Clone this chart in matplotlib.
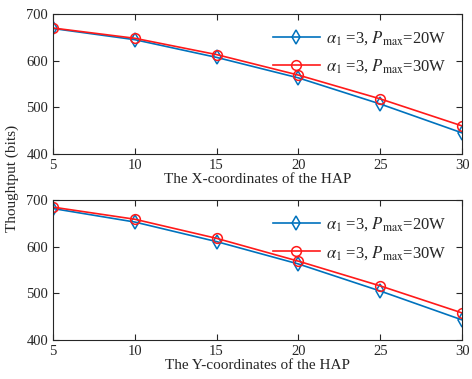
import numpy as np
import matplotlib.pyplot as plt

plt.rcParams["font.family"] = "Liberation Serif"
plt.rcParams["mathtext.fontset"] = "stix"

x = [5, 10, 15, 20, 25, 30]
# throughput vs X-coordinate of the HAP
x_p20 = [669, 645, 607, 563, 507, 445]
x_p30 = [670, 648, 613, 569, 518, 460]
# throughput vs Y-coordinate of the HAP
y_p20 = [682, 653, 611, 563, 505, 443]
y_p30 = [685, 659, 618, 569, 516, 458]

blue = (0, 0.447, 0.741)
red = (1.0, 0.1, 0.1)
grey = "#262626"

lab20 = r"$\alpha_1$ =3, $P_{\rm max}$=20W"
lab30 = r"$\alpha_1$ =3, $P_{\rm max}$=30W"


def draw(ax, s20, s30, xlabel):
    ax.plot(x, s20, color=blue, marker="d", markersize=7, markerfacecolor="none",
            markeredgewidth=1.1, linewidth=1.2, label=lab20)
    ax.plot(x, s30, color=red, marker="o", markersize=7, markerfacecolor="none",
            markeredgewidth=1.1, linewidth=1.2, label=lab30)
    ax.set_xlim(5, 30)
    ax.set_ylim(400, 700)
    ax.set_xticks(x)
    ax.set_yticks([400, 500, 600, 700])
    ax.tick_params(direction="in", top=True, right=True, labelsize=10.5, length=4,
                   colors=grey)
    for sp in ax.spines.values():
        sp.set_color(grey)
    ax.set_xlabel(xlabel, fontsize=11, labelpad=1, color=grey)
    leg = ax.legend(loc="upper right", frameon=False, fontsize=12, handlelength=2.8,
                    borderaxespad=0.5, labelspacing=0.65, handletextpad=0.4)
    for t in leg.get_texts():
        t.set_color(grey)


fig = plt.figure(figsize=(4.72, 3.79), dpi=100)
ax1 = fig.add_axes([0.112, 0.594, 0.867, 0.369])
ax2 = fig.add_axes([0.112, 0.103, 0.867, 0.369])
draw(ax1, x_p20, x_p30, "The X-coordinates of the HAP")
draw(ax2, y_p20, y_p30, "The Y-coordinates of the HAP")
fig.text(0.025, 0.53, "Thoughtput (bits)", rotation=90, va="center", ha="center",
         fontsize=11, color=grey)

fig.savefig("out.png", dpi=100)
